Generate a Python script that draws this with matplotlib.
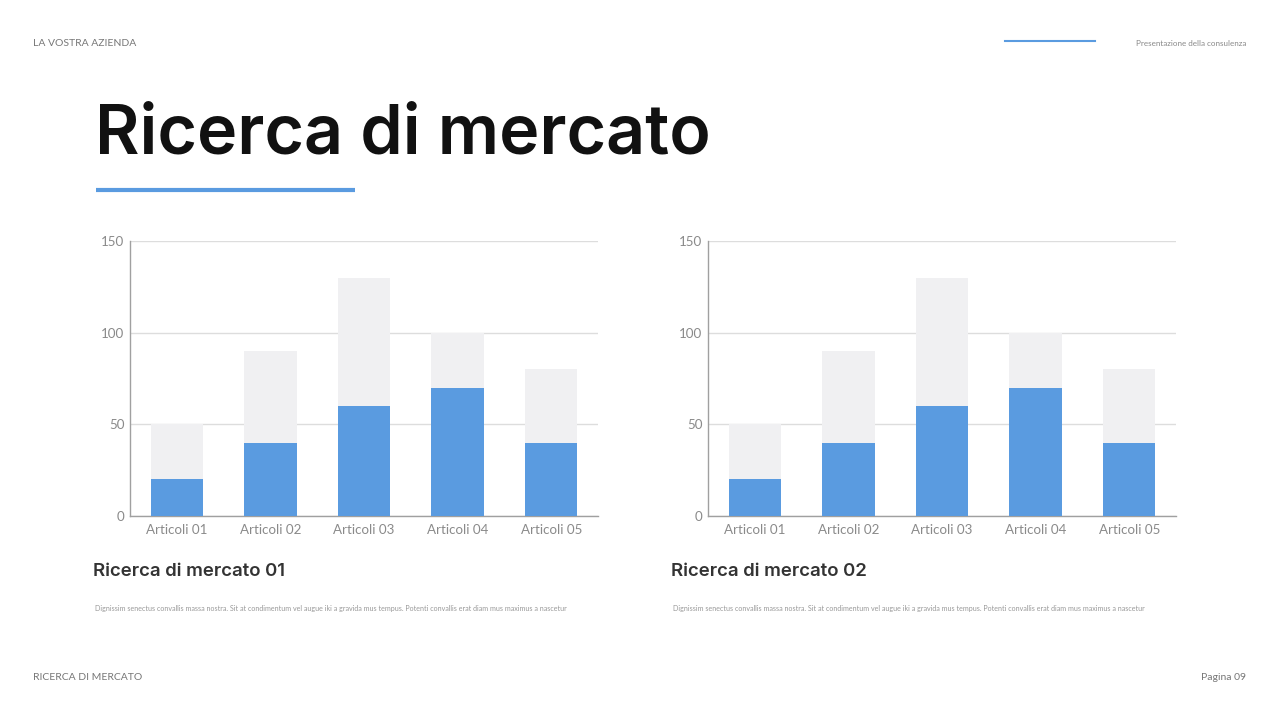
import matplotlib.pyplot as plt

# Data
categories = ["Articoli 01", "Articoli 02", "Articoli 03", "Articoli 04", "Articoli 05"]
blue_values = [20, 40, 60, 70, 40]
total_values = [50, 90, 130, 100, 80]
y_ticks = [0, 50, 100, 150]
chart_titles = ["Ricerca di mercato 01", "Ricerca di mercato 02"]
body_text = ("Dignissim senectus convallis massa nostra. Sit at condimentum vel augue iki a gravida "
             "mus tempus. Potenti convallis erat diam mus maximus a nascetur")

BLUE = "#5a9be0"
LIGHT = "#f0f0f2"
GREY_TXT = "#8a8a8a"

fig = plt.figure(figsize=(12.8, 7.2), dpi=100)
fig.patch.set_facecolor("white")

# Header / footer
fig.text(33 / 1280, 1 - 43 / 720, "LA VOSTRA AZIENDA", family="Lato", fontsize=7.5,
         color="#777777", va="center")
fig.text(1246 / 1280, 1 - 43 / 720, "Presentazione della consulenza", family="Lato",
         fontsize=5.8, color="#888888", va="center", ha="right")
fig.add_artist(plt.Line2D([1005 / 1280, 1095 / 1280], [1 - 41 / 720] * 2, color=BLUE, lw=1.5))
fig.text(33 / 1280, 1 - 678 / 720, "RICERCA DI MERCATO", family="Lato", fontsize=7.5,
         color="#777777", va="center")
fig.text(1246 / 1280, 1 - 678 / 720, "Pagina 09", family="Lato", fontsize=7.5,
         color="#777777", va="center", ha="right")

# Title
fig.text(95 / 1280, 1 - 154 / 720, "Ricerca di mercato", family="Inter", fontweight="semibold",
         fontsize=49, color="#111111", va="baseline")
fig.add_artist(plt.Line2D([96 / 1280, 355 / 1280], [1 - 190 / 720] * 2, color=BLUE, lw=3,
                          solid_capstyle="butt"))

# Two charts
lefts = [130, 708]
for left, title in zip(lefts, chart_titles):
    ax = fig.add_axes([left / 1280, 1 - 516 / 720, 468 / 1280, 275 / 720])
    x = range(len(categories))
    ax.bar(x, total_values, width=0.56, color=LIGHT, zorder=2)
    ax.bar(x, blue_values, width=0.56, color=BLUE, zorder=3)
    ax.set_xlim(-0.5, len(categories) - 0.5)
    ax.set_ylim(0, 150)
    ax.set_yticks(y_ticks)
    ax.set_xticks(list(x))
    ax.set_xticklabels(categories)
    ax.yaxis.grid(True, color="#dddddd", lw=1, zorder=1)
    ax.set_axisbelow(True)
    for s in ["top", "right"]:
        ax.spines[s].set_visible(False)
    for s in ["left", "bottom"]:
        ax.spines[s].set_color("#a0a0a0")
        ax.spines[s].set_linewidth(1)
    ax.tick_params(axis="y", length=0, pad=4, colors=GREY_TXT)
    ax.tick_params(axis="x", length=0, pad=6, colors=GREY_TXT)
    for lbl in ax.get_xticklabels() + ax.get_yticklabels():
        lbl.set_family("Lato")
        lbl.set_fontsize(9.6)
        lbl.set_color(GREY_TXT)

    fig.text((left - 37) / 1280, 1 - 571 / 720, title, family="Inter", fontweight="semibold",
             fontsize=13.4, color="#333333", va="center")
    fig.text((left - 35) / 1280, 1 - 609 / 720, body_text, family="Lato", fontsize=5.15,
             color="#999999", va="center")

fig.savefig("out.png", dpi=100, facecolor="white")
